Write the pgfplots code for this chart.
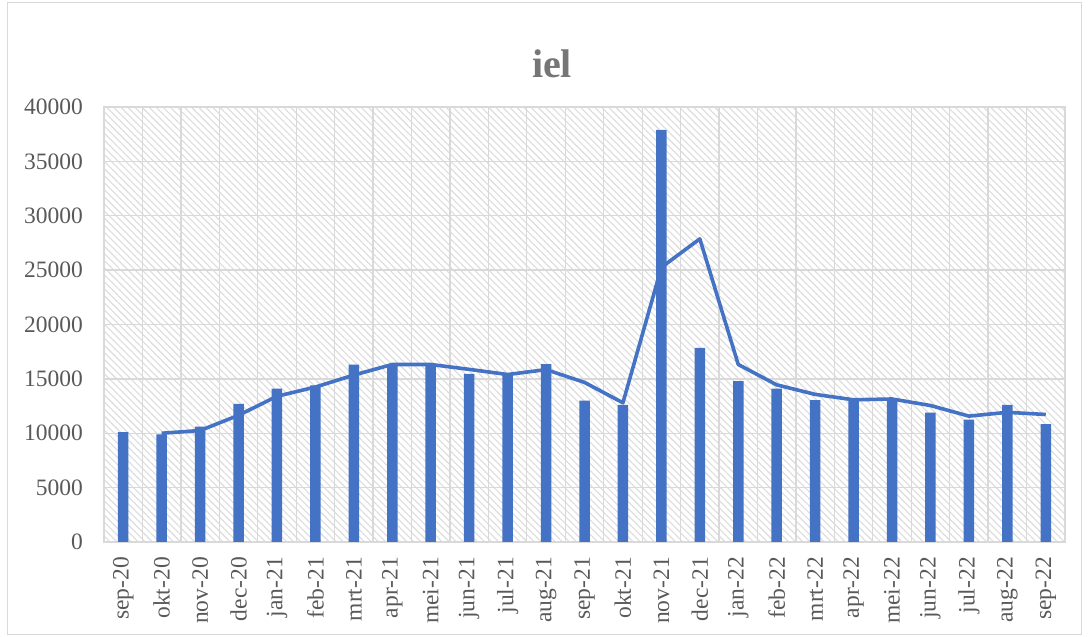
\documentclass[border=0pt]{standalone}
\usepackage{fontspec}
\setmainfont{Liberation Serif}
\usepackage{pgfplots}
\pgfplotsset{compat=1.18}
\usetikzlibrary{patterns.meta}
\definecolor{barblue}{HTML}{4472C4}
\definecolor{gridgray}{HTML}{D9D9D9}
\definecolor{txtgray}{HTML}{595959}
\definecolor{titlegray}{HTML}{767676}
\definecolor{hatch}{HTML}{DCDCDC}
\begin{document}
\begin{tikzpicture}[x=1pt,y=1pt]
\useasboundingbox (0,0) rectangle (1088,637);
\draw[gridgray, line width=1pt] (7,2) rectangle (1081,634);
\node[font=\fontsize{40}{48}\selectfont\bfseries, text=titlegray, anchor=base] at (552,559) {iel};
\begin{axis}[
  at={(104pt,95pt)}, anchor=south west, scale only axis,
  width=961pt, height=435pt,
  xmin=-0.5, xmax=24.5, ymin=0, ymax=40000,
  ytick={0,5000,...,40000},
  xtick={0,...,24},
  xticklabels={sep-20,okt-20,nov-20,dec-20,jan-21,feb-21,mrt-21,apr-21,mei-21,jun-21,jul-21,aug-21,sep-21,okt-21,nov-21,dec-21,jan-22,feb-22,mrt-22,apr-22,mei-22,jun-22,jul-22,aug-22,sep-22},
  minor xtick={-0.5,0.5,...,24.5},
  xminorgrids, ymajorgrids, xmajorgrids=false,
  major grid style={gridgray, line width=1.3pt},
  minor grid style={gridgray, line width=1.3pt},
  axis line style={gridgray, line width=1.3pt},
  major tick length=0pt, minor tick length=0pt,
  tick style={draw=none},
  axis background/.style={pattern={Lines[angle=-45,distance=5pt,line width=1.1pt]}, pattern color=hatch},
  scaled y ticks=false,
  /pgf/number format/.cd, 1000 sep={}, assume math mode=true, /pgfplots/.cd,
  ticklabel style={font=\fontsize{23.5}{28}\selectfont, text=txtgray},
  yticklabel style={anchor=east, inner sep=0pt, xshift=-21pt},
  xticklabel style={yshift=-15pt, rotate=90, anchor=east, inner sep=0pt},
]
\addplot[ybar, bar width=10.5pt, fill=barblue, draw=none] coordinates {
(0,10100) (1,9900) (2,10600) (3,12700) (4,14100) (5,14400) (6,16300) (7,16350) (8,16300) (9,15450) (10,15350) (11,16350) (12,13000) (13,12600) (14,37900) (15,17850) (16,14800) (17,14100) (18,13050) (19,13100) (20,13200) (21,11900) (22,11250) (23,12600) (24,10850)
};
\addplot[barblue, line width=3.6pt, line join=round, mark=none] coordinates {
(1,10000) (2,10250) (3,11650) (4,13400) (5,14250) (6,15350) (7,16325) (8,16325) (9,15875) (10,15400) (11,15850) (12,14675) (13,12800) (14,25250) (15,27875) (16,16325) (17,14450) (18,13575) (19,13075) (20,13150) (21,12550) (22,11575) (23,11925) (24,11725)
};
\end{axis}
\end{tikzpicture}
\end{document}
